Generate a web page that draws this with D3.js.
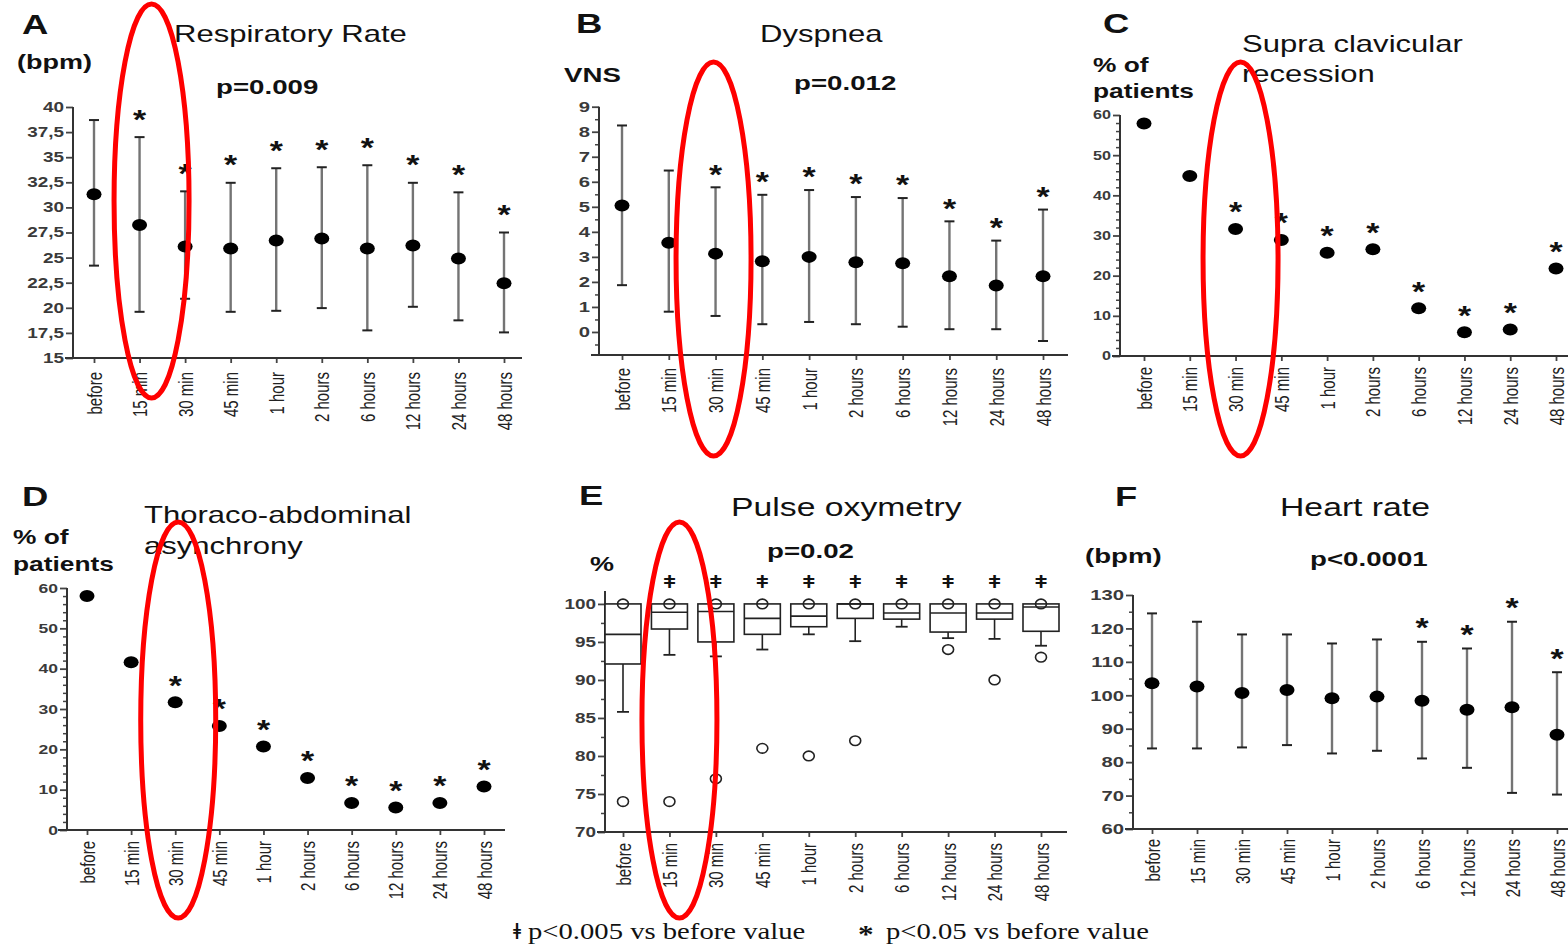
<!DOCTYPE html>
<html><head><meta charset="utf-8">
<script src="https://cdn.jsdelivr.net/npm/d3@7"></script>
<style>body{margin:0;background:#fff}svg{display:block}</style>
</head><body>
<svg id="chart" width="1568" height="947"></svg>
<script>
// ---------------- DATA ----------------
const categories = ["before","15 min","30 min","45 min","1 hour","2 hours","6 hours","12 hours","24 hours","48 hours"];

// A: Respiratory rate (bpm) mean and SD limits
const rrMean  = [31.3, 28.25, 26.1, 25.9, 26.7, 26.9, 25.9, 26.2, 24.9, 22.45];
const rrUpper = [38.7, 37.0, 31.6, 32.45, 33.9, 34.0, 34.2, 32.45, 31.5, 27.5];
const rrLower = [24.2, 19.6, 20.9, 19.6, 19.7, 19.97, 17.75, 20.1, 18.75, 17.55];
const rrSig   = [0,1,1,1,1,1,1,1,1,1];
const rrTicks = [15,17.5,20,22.5,25,27.5,30,32.5,35,37.5,40];

// B: Dyspnea (VNS)
const dysMean  = [5.05, 3.56, 3.13, 2.83, 3.0, 2.79, 2.75, 2.23, 1.86, 2.23];
const dysUpper = [8.25, 6.45, 5.78, 5.48, 5.67, 5.39, 5.35, 4.42, 3.65, 4.89];
const dysLower = [1.87, 0.81, 0.64, 0.31, 0.40, 0.31, 0.21, 0.11, 0.11, -0.36];
const dysSig   = [0,0,1,1,1,1,1,1,1,1];
const dysTicks = [0,1,2,3,4,5,6,7,8,9];

// C: Supra clavicular recession (% of patients)
const scrPct = [57.9, 44.8, 31.6, 28.9, 25.7, 26.6, 11.9, 5.9, 6.6, 21.8];
const scrSig = [0,0,1,1,1,1,1,1,1,1];
const pctTicks = [0,10,20,30,40,50,60];

// D: Thoraco-abdominal asynchrony (% of patients)
const taaPct = [58.0, 41.6, 31.7, 25.8, 20.7, 12.9, 6.7, 5.6, 6.7, 10.8];
const taaSig = [0,0,1,1,1,1,1,1,1,1];

// E: Pulse oxymetry (%) box plots
const spoQ1      = [92.1, 96.7, 95.0, 96.0, 97.0, 98.1, 98.0, 96.3, 98.0, 96.4];
const spoMedian  = [96.0, 98.9, 99.0, 98.1, 98.4, 100, 98.8, 98.8, 98.8, 99.6];
const spoQ3      = [100, 100, 100, 100, 100, 100, 100, 100, 100, 100];
const spoWhLow   = [85.8, 93.3, 93.1, 94.0, 96.0, 95.1, 97.0, 95.5, 95.4, 94.5];
const spoOutliers = [[100,74],[100,74],[100,77],[100,81],[100,80],[100,82],[100],[100,94],[100,90],[100,93]];
const spoSig     = [0,1,1,1,1,1,1,1,1,1];
const spoTicks   = [70,75,80,85,90,95,100];

// F: Heart rate (bpm)
const hrMean  = [103.6, 102.6, 100.7, 101.6, 99.1, 99.6, 98.4, 95.7, 96.4, 88.2];
const hrUpper = [124.5, 122.0, 118.2, 118.2, 115.5, 116.7, 116.0, 114.0, 122.0, 106.9];
const hrLower = [84.1, 84.1, 84.4, 85.1, 82.6, 83.4, 81.1, 78.3, 70.8, 70.3];
const hrSig   = [0,0,0,0,0,0,1,1,1,1];
const hrTicks = [60,70,80,90,100,110,120,130];

// ---------------- DRAWING ----------------
const SX = 1.35;
const SANS = "'Liberation Sans', Arial, Helvetica, sans-serif";
const SERIF = "'Liberation Serif', 'Times New Roman', 'DejaVu Serif', serif";
const svg = d3.select("#chart");
svg.append("rect").attr("width",1568).attr("height",947).attr("fill","#fff");

function label(g, x, y, str, o = {}) {
  return g.append("text")
    .attr("transform", `translate(${x},${y}) scale(${o.sx || SX},1)`)
    .attr("font-family", o.family || SANS)
    .attr("font-size", o.size || 20)
    .attr("font-weight", o.weight || "normal")
    .attr("fill", o.fill || "#111")
    .attr("text-anchor", o.anchor || "start")
    .text(str);
}

function panel(cfg) {
  const g = svg.append("g");
  const x = d3.scalePoint().domain(categories).range(cfg.xr);
  const y = d3.scaleLinear().domain(cfg.yd).range(cfg.yr);
  const base = cfg.yr[0];
  if (cfg.minor) {
    const mi = g.append("g").attr("transform", `translate(${cfg.ax},0)`)
      .call(d3.axisLeft(y).tickValues(cfg.minor).tickSize(4).tickFormat(""));
    mi.select(".domain").remove();
    mi.selectAll("line").attr("stroke", "#444").attr("stroke-width", 1.5);
  }
  const ma = g.append("g").attr("transform", `translate(${cfg.ax},0)`)
    .call(d3.axisLeft(y).tickValues(cfg.ticks).tickSize(7).tickPadding(2).tickFormat(cfg.fmt || (d => d)));
  ma.select(".domain").remove();
  ma.selectAll("line").attr("stroke", "#444").attr("stroke-width", 1.8);
  ma.selectAll("text").each(function () {
    const t = d3.select(this);
    const xx = +t.attr("x");
    t.attr("x", 0).attr("transform", `translate(${xx},0) scale(${SX},1)`);
  }).attr("font-size", cfg.tf).attr("font-weight", "bold").attr("fill", "#3a3a3a").attr("font-family", SANS);

  const xa = g.append("g").attr("transform", `translate(0,${base})`)
    .call(d3.axisBottom(x).tickSize(5));
  xa.select(".domain").remove();
  xa.selectAll("line").attr("stroke", "#444").attr("stroke-width", 1.8);
  xa.selectAll("text").attr("x", 0).attr("y", 0).attr("dy", "0.35em")
    .attr("transform", `translate(0,${cfg.gap}) scale(${SX},1) rotate(-90)`)
    .attr("text-anchor", "end").attr("font-size", 15).attr("fill", "#222").attr("font-family", SANS);

  g.append("line").attr("x1", cfg.ax).attr("x2", cfg.ax).attr("y1", cfg.yr[1]).attr("y2", base)
    .attr("stroke", "#333").attr("stroke-width", 2);
  g.append("line").attr("x1", cfg.xl[0]).attr("x2", cfg.xl[1]).attr("y1", base).attr("y2", base)
    .attr("stroke", "#333").attr("stroke-width", 2);
  return { g, x, y };
}

function errorBars(p, mean, upper, lower) {
  const { g, x, y } = p;
  const cats = categories.map((c, i) => ({ c, m: mean[i], u: upper[i], l: lower[i] }));
  g.selectAll(null).data(cats).join("line")
    .attr("x1", d => x(d.c)).attr("x2", d => x(d.c))
    .attr("y1", d => y(d.u)).attr("y2", d => y(d.l))
    .attr("stroke", "#747474").attr("stroke-width", 2.4);
  ["u", "l"].forEach(k => {
    g.selectAll(null).data(cats).join("line")
      .attr("x1", d => x(d.c) - 5).attr("x2", d => x(d.c) + 5)
      .attr("y1", d => y(d[k])).attr("y2", d => y(d[k]))
      .attr("stroke", "#222").attr("stroke-width", 2);
  });
  dots(p, mean);
}

function dots(p, vals) {
  const { g, x, y } = p;
  g.selectAll(null).data(categories.map((c, i) => ({ c, v: vals[i] }))).join("ellipse")
    .attr("cx", d => x(d.c)).attr("cy", d => y(d.v))
    .attr("rx", 7.5).attr("ry", 6).attr("fill", "#000");
}

function stars(p, sig, ref, offset) {
  const { g, x, y } = p;
  const fs = 27;
  categories.forEach((c, i) => {
    if (!sig[i]) return;
    const cy = y(ref[i]) - offset;
    label(g, x(c), cy + 0.57 * fs, "*", { size: fs, weight: "bold", anchor: "middle", fill: "#111", sx: 1.25 });
  });
}

// ---- Panel A
const pA = panel({ xr: [94, 504], yd: [15, 40], yr: [358, 107], ax: 73, xl: [65, 522],
  ticks: rrTicks, fmt: d => String(d).replace(".", ","), tf: 14, gap: 14 });
errorBars(pA, rrMean, rrUpper, rrLower);
stars(pA, rrSig, rrUpper, 24);
label(svg, 22, 34, "A", { size: 27, weight: "bold" });
label(svg, 174, 42, "Respiratory Rate", { size: 23 });
label(svg, 17, 69, "(bpm)", { size: 20, weight: "bold" });
label(svg, 216, 94, "p=0.009", { size: 20.5, weight: "bold" });

// ---- Panel B
const pB = panel({ xr: [622, 1043], yd: [-0.92, 9], yr: [355, 106.7], ax: 599, xl: [591, 1068],
  ticks: dysTicks, minor: d3.range(-0.5, 9, 1), tf: 15, gap: 13 });
errorBars(pB, dysMean, dysUpper, dysLower);
stars(pB, dysSig, dysUpper, 19);
label(svg, 576, 33, "B", { size: 27, weight: "bold" });
label(svg, 760, 42, "Dyspnea", { size: 23 });
label(svg, 564, 82, "VNS", { size: 20.5, weight: "bold" });
label(svg, 794, 90, "p=0.012", { size: 20.5, weight: "bold" });

// ---- Panel C
const pC = panel({ xr: [1144, 1556], yd: [0, 60], yr: [356, 115], ax: 1120, xl: [1112, 1568],
  ticks: pctTicks, minor: d3.range(0, 61, 2).filter(d => d % 10), tf: 12, gap: 11 });
dots(pC, scrPct);
stars(pC, scrSig, scrPct, 23);
label(svg, 1103, 33, "C", { size: 27, weight: "bold" });
label(svg, 1242, 52, "Supra clavicular", { size: 23 });
label(svg, 1242, 82, "recession", { size: 23 });
label(svg, 1093, 72, "% of", { size: 19.5, weight: "bold" });
label(svg, 1093, 98, "patients", { size: 19.5, weight: "bold" });

// ---- Panel D
const pD = panel({ xr: [87, 484], yd: [0, 60], yr: [830, 588], ax: 67, xl: [58, 505],
  ticks: pctTicks, minor: d3.range(0, 61, 2).filter(d => d % 10), tf: 13, gap: 11 });
dots(pD, taaPct);
stars(pD, taaSig, taaPct, 23);
label(svg, 22, 506, "D", { size: 27, weight: "bold" });
label(svg, 144, 523, "Thoraco-abdominal", { size: 23 });
label(svg, 144, 554, "asynchrony", { size: 23 });
label(svg, 13, 544, "% of", { size: 19.5, weight: "bold" });
label(svg, 13, 571, "patients", { size: 19.5, weight: "bold" });

// ---- Panel E (box plots)
const pE = panel({ xr: [623, 1041], yd: [70, 101.7], yr: [832, 591], ax: 605, xl: [597, 1067],
  ticks: spoTicks, minor: d3.range(72.5, 100, 5), tf: 14, gap: 11 });
(function () {
  const { g, x, y } = pE;
  const bw = 36;
  categories.forEach((c, i) => {
    const cx = x(c);
    g.append("line").attr("x1", cx).attr("x2", cx).attr("y1", y(spoQ1[i])).attr("y2", y(spoWhLow[i]))
      .attr("stroke", "#222").attr("stroke-width", 1.6);
    g.append("line").attr("x1", cx - 6).attr("x2", cx + 6).attr("y1", y(spoWhLow[i])).attr("y2", y(spoWhLow[i]))
      .attr("stroke", "#222").attr("stroke-width", 1.8);
    g.append("rect").attr("x", cx - bw / 2).attr("width", bw)
      .attr("y", y(spoQ3[i])).attr("height", y(spoQ1[i]) - y(spoQ3[i]))
      .attr("fill", "#fff").attr("stroke", "#222").attr("stroke-width", 1.6);
    g.append("line").attr("x1", cx - bw / 2).attr("x2", cx + bw / 2).attr("y1", y(spoMedian[i])).attr("y2", y(spoMedian[i]))
      .attr("stroke", "#222").attr("stroke-width", 1.6);
    spoOutliers[i].forEach(v => {
      g.append("ellipse").attr("cx", cx).attr("cy", y(v)).attr("rx", 5.5).attr("ry", 4.8)
        .attr("fill", "none").attr("stroke", "#222").attr("stroke-width", 1.6);
    });
    if (spoSig[i]) label(g, cx, y(100) - 23 + 7, "ǂ", { size: 18, weight: "bold", anchor: "middle", sx: 1.2 });
  });
})();
label(svg, 579, 505, "E", { size: 27, weight: "bold" });
label(svg, 731, 516, "Pulse oxymetry", { size: 25 });
label(svg, 767, 558, "p=0.02", { size: 20.5, weight: "bold" });
label(svg, 590, 571, "%", { size: 20, weight: "bold" });

// ---- Panel F
const pF = panel({ xr: [1152, 1557], yd: [60, 130], yr: [829, 595], ax: 1133, xl: [1125, 1568],
  ticks: hrTicks, minor: d3.range(65, 130, 10), tf: 15, gap: 10 });
errorBars(pF, hrMean, hrUpper, hrLower);
stars(pF, hrSig, hrUpper, 20);
label(svg, 1115, 506, "F", { size: 27, weight: "bold" });
label(svg, 1280, 516, "Heart rate", { size: 25 });
label(svg, 1085, 563, "(bpm)", { size: 20.5, weight: "bold" });
label(svg, 1310, 566, "p<0.0001", { size: 20.5, weight: "bold" });

// ---- Legend
label(svg, 513, 939, "ǂ", { size: 24, family: SERIF, sx: 1.2, weight: "bold" });
label(svg, 528, 939, "p<0.005 vs before value", { size: 23.5, family: SERIF, sx: 1.22 });
label(svg, 858, 943, "*", { size: 26, family: SERIF, sx: 1.2, weight: "bold" });
label(svg, 886, 939, "p<0.05 vs before value", { size: 23.5, family: SERIF, sx: 1.22 });

// ---- Red highlight ellipses (annotations around one time point)
const highlights = [
  { p: pA, cat: "15 min", dx: 12, cy: 201, ry: 197 },
  { p: pB, cat: "30 min", dx: -2, cy: 259, ry: 197 },
  { p: pC, cat: "30 min", dx: 5, cy: 259, ry: 197 },
  { p: pD, cat: "30 min", dx: 3, cy: 720, ry: 198 },
  { p: pE, cat: "15 min", dx: 10, cy: 720, ry: 198 }
];
highlights.forEach(h => {
  svg.append("ellipse").attr("cx", h.p.x(h.cat) + h.dx).attr("cy", h.cy)
    .attr("rx", 37.5).attr("ry", h.ry)
    .attr("fill", "none").attr("stroke", "#f00").attr("stroke-width", 5);
});
</script>
</body></html>
